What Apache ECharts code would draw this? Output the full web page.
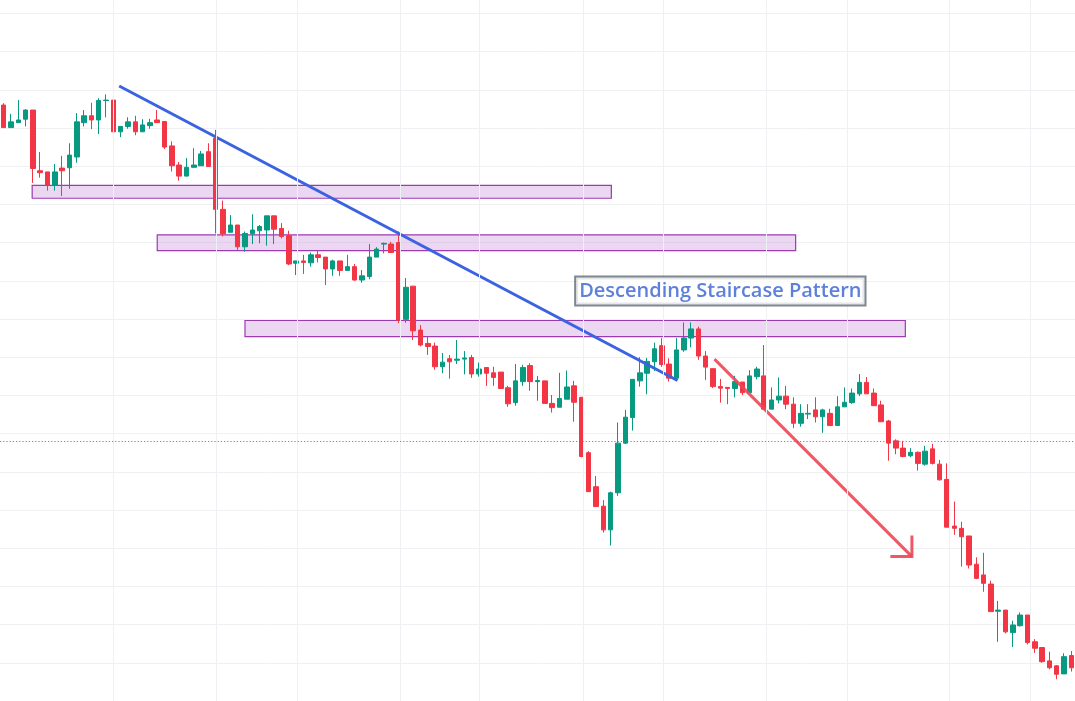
<!DOCTYPE html>
<html>
<head>
<meta charset="utf-8">
<title>Descending Staircase Pattern</title>
<script src="https://cdn.jsdelivr.net/npm/echarts@6.0.0/dist/echarts.min.js"></script>
<style>
    html, body { margin: 0; padding: 0; background: #ffffff; }
    #chart { width: 1075px; height: 701px; }
</style>
</head>
<body>
<div id="chart"></div>
<script>
// candles (price units are arbitrary, 10 per grid row)
var openVals = [156.0, 150.1, 151.4, 152.3, 154.7, 138.8, 138.5, 135.0, 139.5, 139.6,
    142.4, 151.4, 153.2, 152.1, 157.2, 157.3, 149.0, 150.4, 151.6, 149.0,
    150.6, 152.1, 151.7, 145.3, 140.3, 137.4, 139.7, 140.1, 143.8, 147.3,
    128.7, 122.7, 124.6, 118.9, 122.3, 123.1, 123.3, 127.0, 123.7, 121.8,
    114.6, 115.2, 114.7, 116.8, 116.2, 113.1, 115.2, 112.7, 113.7, 110.2,
    111.1, 116.2, 119.6, 119.6, 120.0, 99.9, 108.6, 97.1, 93.6, 92.9,
    87.5, 89.6, 89.2, 89.5, 89.9, 85.6, 87.3, 85.9, 86.1, 82.0,
    78.1, 83.6, 87.8, 83.6, 83.8, 77.9, 76.9, 79.0, 82.5, 79.5,
    65.0, 56.1, 51.0, 44.8, 54.5, 67.5, 74.2, 83.8, 85.8, 88.8,
    93.0, 88.2, 84.5, 91.9, 95.0, 97.4, 90.3, 87.0, 82.3, 82.1,
    81.8, 83.5, 80.7, 84.9, 85.1, 76.4, 78.8, 79.8, 77.7, 72.7,
    75.1, 76.2, 74.4, 75.3, 72.1, 77.0, 78.1, 80.4, 83.4, 80.6,
    77.5, 73.3, 68.1, 66.2, 64.2, 65.1, 62.0, 66.0, 62.0, 58.0,
    45.8, 45.2, 43.2, 35.8, 33.0, 30.6, 23.5, 23.8, 17.9, 19.7,
    22.5, 15.5, 14.0, 10.5, 9.2, 7.1, 11.9];
var closeVals = [150.1, 151.6, 152.1, 154.7, 139.4, 138.3, 135.0, 138.5, 138.8, 142.9,
    151.6, 153.2, 152.1, 157.2, 157.3, 149.0, 150.4, 151.6, 149.0, 150.8,
    151.4, 151.4, 145.0, 140.1, 137.4, 139.7, 140.3, 143.2, 139.9, 128.7,
    122.3, 124.6, 118.9, 122.4, 123.3, 124.2, 127.0, 123.5, 121.6, 114.4,
    115.2, 114.8, 116.8, 116.1, 113.1, 115.2, 112.7, 113.7, 110.2, 111.3,
    116.2, 118.3, 119.8, 117.4, 99.7, 108.3, 96.9, 93.2, 92.8, 87.5,
    88.7, 88.8, 89.5, 89.8, 85.6, 86.9, 85.8, 84.7, 81.8, 77.8,
    83.8, 87.3, 83.6, 83.9, 77.9, 76.8, 79.2, 82.2, 78.2, 64.0,
    54.8, 50.9, 44.8, 54.5, 67.5, 74.3, 84.2, 85.9, 88.9, 92.2,
    88.1, 84.5, 91.9, 95.0, 97.4, 90.3, 87.4, 82.3, 81.9, 81.8,
    83.6, 80.7, 85.1, 86.9, 76.4, 78.8, 79.8, 77.7, 72.7, 75.3,
    75.3, 74.4, 76.2, 72.1, 77.0, 78.2, 80.6, 83.4, 80.4, 77.3,
    73.1, 67.5, 66.2, 64.0, 65.1, 62.2, 65.4, 62.2, 57.9, 45.5,
    45.2, 43.0, 35.6, 32.1, 30.8, 23.4, 23.8, 18.1, 19.9, 22.5,
    15.3, 13.8, 10.3, 8.7, 7.0, 11.6, 8.7];
var lowVals = [150.1, 150.1, 151.4, 150.4, 135.6, 137.0, 133.6, 133.6, 132.2, 134.1,
    140.9, 150.4, 149.7, 148.4, 152.8, 149.0, 147.6, 149.8, 148.1, 149.0,
    149.8, 151.4, 144.5, 138.6, 136.2, 137.4, 139.7, 140.1, 139.9, 122.4,
    121.6, 122.7, 118.1, 117.6, 119.6, 119.8, 119.2, 119.6, 121.1, 114.1,
    111.5, 111.8, 113.7, 114.8, 108.9, 111.3, 111.3, 112.7, 110.0, 109.5,
    110.4, 116.2, 117.2, 117.4, 98.9, 99.0, 94.5, 92.8, 90.6, 86.7,
    85.8, 84.4, 88.2, 85.5, 84.6, 84.9, 82.5, 82.5, 81.8, 77.0,
    77.3, 82.5, 81.2, 78.6, 77.9, 75.5, 76.9, 79.0, 73.1, 63.8,
    54.8, 50.9, 44.1, 40.7, 53.7, 67.3, 70.8, 82.3, 80.3, 86.4,
    87.5, 83.6, 84.5, 91.4, 92.6, 89.3, 84.0, 81.9, 78.1, 77.7,
    79.5, 80.1, 80.7, 84.2, 76.4, 76.4, 77.9, 76.4, 71.4, 71.8,
    73.8, 72.9, 70.2, 72.1, 72.1, 77.0, 77.8, 79.8, 80.4, 77.3,
    73.1, 62.9, 64.6, 63.8, 63.8, 60.3, 61.6, 61.9, 57.7, 45.5,
    43.5, 35.2, 34.7, 31.9, 28.6, 23.4, 15.5, 17.7, 14.1, 19.5,
    14.8, 12.6, 10.0, 8.3, 5.7, 7.1, 7.7];
var highVals = [156.5, 153.7, 157.3, 154.9, 154.7, 143.7, 138.5, 140.6, 142.7, 146.0,
    153.9, 154.7, 156.6, 157.8, 158.8, 158.0, 150.4, 152.8, 153.2, 152.3,
    152.4, 154.7, 151.7, 146.5, 141.1, 142.1, 144.7, 144.0, 146.0, 149.5,
    131.0, 127.2, 124.6, 122.9, 127.4, 124.6, 127.0, 127.0, 125.1, 123.1,
    115.2, 116.8, 117.4, 117.9, 116.2, 115.5, 115.2, 116.8, 114.4, 112.8,
    119.6, 118.8, 120.0, 120.2, 122.9, 110.7, 108.6, 98.4, 95.4, 93.8,
    91.1, 90.6, 94.5, 91.6, 90.6, 88.6, 87.3, 87.5, 86.1, 82.5,
    88.2, 88.0, 88.4, 85.1, 83.8, 80.1, 85.9, 86.5, 83.8, 79.5,
    65.4, 58.9, 52.6, 54.8, 72.9, 76.2, 84.2, 90.0, 89.8, 93.8,
    95.0, 89.7, 95.0, 99.1, 99.1, 98.0, 91.6, 87.0, 84.3, 82.1,
    85.1, 83.5, 86.6, 87.5, 93.2, 82.1, 84.7, 82.5, 79.5, 77.7,
    77.7, 79.5, 76.5, 76.5, 79.8, 82.1, 81.8, 85.6, 84.8, 81.8,
    78.6, 73.6, 68.5, 68.1, 66.2, 65.3, 66.8, 67.3, 63.1, 62.2,
    52.2, 46.9, 43.2, 37.6, 38.8, 31.5, 26.2, 23.8, 21.0, 23.2,
    22.5, 16.2, 14.0, 12.9, 9.4, 12.5, 13.1];

// drawings: x is the candle index, y the price
var zoneBoxes = [[3.9, 135.0, 83.1, 131.6], [21.0, 122.0, 108.3, 117.9], [33.0, 99.6, 123.3, 95.4]];
var trendLine = [[15.8, 161.0], [92.15, 83.9]];
var arrowShaft = [[97.2, 89.5], [124.2, 37.8]];
var arrowHead = [[121.25, 37.8], [124.2, 37.8], [124.2, 43.3]];
var patternLabel = [[98.0, 107.3]];
var lastPrice = 68.1;
var timeLines = [15, 29.05, 40.1, 54.2, 65, 79.25, 90.2, 104.3, 115.4, 129.3, 140.4];

var gridColor = '#eef0f3';
var upColor = '#089981', downColor = '#f23645';

var dom = document.getElementById('chart');
var myChart = echarts.init(dom);

var categories = [];
var candles = [];
for (var i = 0; i < openVals.length; i++) {
    categories.push(i);
    // echarts order: open, close, lowest, highest
    candles.push([openVals[i], closeVals[i], lowVals[i], highVals[i]]);
}

var markLines = timeLines.map(function (v) { return { xAxis: v }; });
// last price line, dotted
markLines.push({
    yAxis: lastPrice,
    lineStyle: { color: '#e8384f', width: 1.2, type: [1.2, 2], opacity: 0.85 }
});

var option = {
    animation: false,
    backgroundColor: '#ffffff',
    grid: { left: 0, right: 0, top: 0, bottom: 0 },
    xAxis: [
        {
            type: 'category',
            data: categories,
            boundaryGap: true,
            show: false
        },
        {
            type: 'value',
            min: -0.5,
            max: categories.length - 0.5,
            show: false
        }
    ],
    yAxis: {
        type: 'value',
        min: 0,
        max: 183.5,
        interval: 10,
        axisLine: { show: false },
        axisTick: { show: false },
        axisLabel: { show: false },
        splitLine: {
            show: true,
            showMinLine: false,
            showMaxLine: false,
            lineStyle: { color: gridColor, width: 1 }
        }
    },
    series: [
        {
            // background: time grid lines, price line and the three zones
            name: 'zones',
            type: 'line',
            xAxisIndex: 1,
            data: [],
            silent: true,
            markLine: {
                silent: true,
                symbol: ['none', 'none'],
                label: { show: false },
                lineStyle: { color: gridColor, width: 1, type: 'solid' },
                data: markLines
            },
            markArea: {
                silent: true,
                itemStyle: {
                    color: 'rgba(206, 150, 222, 0.38)',
                    borderColor: '#9a3bb0',
                    borderWidth: 1.2
                },
                data: zoneBoxes.map(function (b) {
                    return [{ coord: [b[0], b[1]] }, { coord: [b[2], b[3]] }];
                })
            }
        },
        {
            name: 'price',
            type: 'candlestick',
            data: candles,
            barWidth: 5,
            itemStyle: {
                color: upColor,
                color0: downColor,
                borderColor: upColor,
                borderColor0: downColor,
                borderWidth: 1
            }
        },
        {
            name: 'trend',
            type: 'line',
            xAxisIndex: 1,
            data: trendLine,
            symbol: 'none',
            lineStyle: { color: '#3b62e0', width: 3 },
            silent: true
        },
        {
            name: 'arrow',
            type: 'line',
            xAxisIndex: 1,
            data: arrowShaft,
            symbol: 'none',
            lineStyle: { color: '#ee4655', width: 3, opacity: 0.9 },
            silent: true
        },
        {
            name: 'arrowhead',
            type: 'line',
            xAxisIndex: 1,
            data: arrowHead,
            symbol: 'none',
            lineStyle: { color: '#ee4655', width: 3, opacity: 0.9, join: 'miter' },
            silent: true
        },
        {
            name: 'label',
            type: 'scatter',
            xAxisIndex: 1,
            data: patternLabel,
            symbolSize: 1,
            itemStyle: { color: 'rgba(0,0,0,0)' },
            silent: true,
            z: 10,
            label: {
                show: true,
                position: 'inside',
                formatter: 'Descending Staircase Pattern',
                fontFamily: 'Open Sans',
                fontWeight: 600,
                fontSize: 20,
                lineHeight: 24,
                color: '#3560d2',
                textBorderWidth: 0,
                backgroundColor: '#ffffff',
                borderColor: '#5c6a74',
                borderWidth: 2,
                padding: [2, 3, 1, 3]
            }
        }
    ]
};

if (option && typeof option === "object") {
    myChart.setOption(option, true);
}
</script>
</body>
</html>
